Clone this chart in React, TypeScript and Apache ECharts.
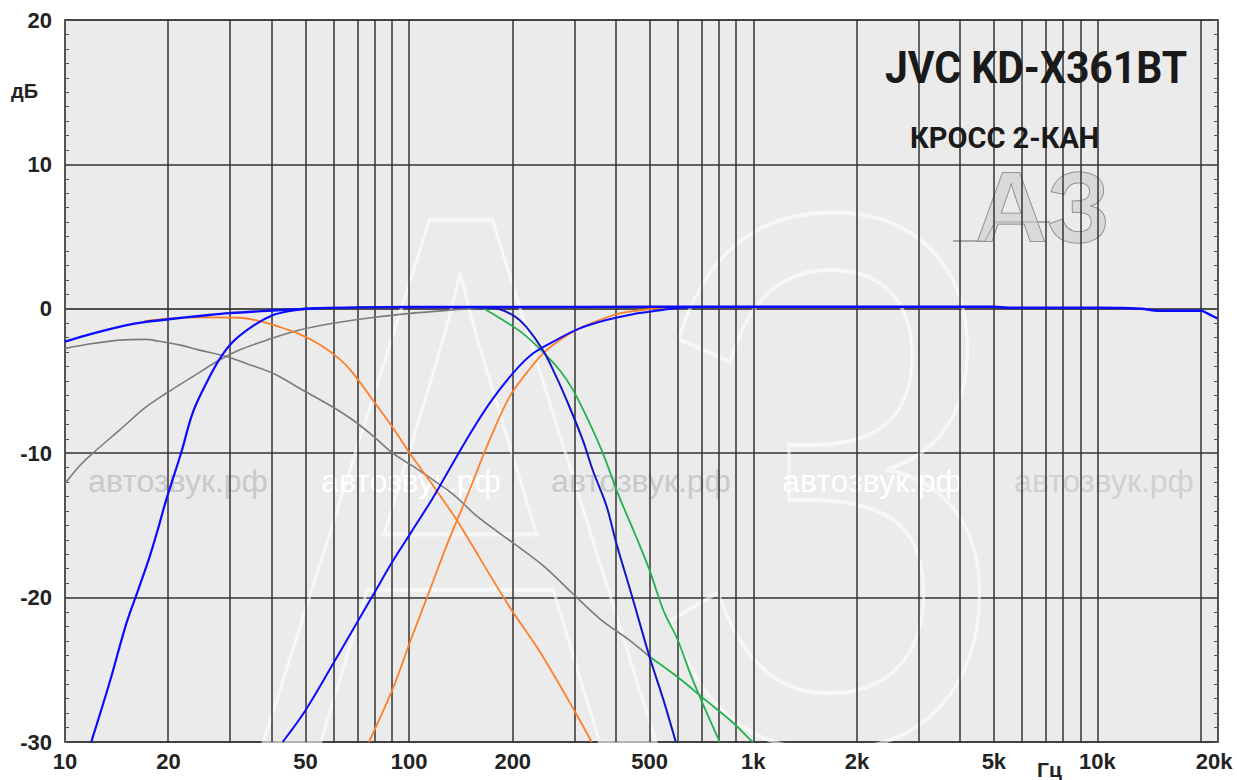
import { useEffect, useRef } from 'react';
import * as echarts from 'echarts';

// ---- data (frequency in Hz, level in dB) ----
const gridFreqs = [20, 30, 40, 50, 60, 70, 80, 90, 100, 200, 300, 400, 500, 600, 700, 800, 900, 1000, 2000, 3000, 4000, 5000, 6000, 7000, 8000, 9000, 10000, 20000];
const xLabelFreqs = [10, 20, 50, 100, 200, 500, 1000, 2000, 5000, 10000, 20000];
const xLabelTexts = ['10', '20', '50', '100', '200', '500', '1k', '2k', '5k', '10k', '20k'];

const greyHP = [[10, -12.1], [11, -10.9], [12.05, -10.0], [14.4, -8.4], [17.2, -6.8], [19.7, -5.85], [23.5, -4.7], [28.1, -3.55], [32.1, -2.86], [38.5, -2.17], [48, -1.47], [60, -1.0], [78.5, -0.6], [102.5, -0.3], [133.6, -0.08], [160, 0.05]];
const greyLP = [[10, -2.74], [12.05, -2.4], [14.4, -2.17], [17.2, -2.12], [18.8, -2.25], [21.5, -2.5], [24.6, -2.86], [29.4, -3.3], [33.6, -3.78], [40.2, -4.47], [48, -5.5], [60, -6.8], [68.6, -7.7], [78.5, -8.8], [89.6, -10.0], [102.5, -10.9], [119.8, -12.0], [136.6, -13.0], [158, -14.4], [200, -16.2], [247, -17.85], [298, -19.7], [359.6, -21.5], [433.6, -22.9], [499.4, -24.1]];
const orangeLP = [[17, -0.85], [20, -0.68], [24.6, -0.6], [32.2, -0.62], [36.8, -0.85], [42, -1.25], [48, -1.75], [54.8, -2.45], [62.6, -3.45], [68.4, -4.4], [78.3, -6.3], [89.5, -8.2], [100.4, -10.0], [112.3, -11.6], [125.2, -13.2], [137.3, -14.6], [146.5, -15.7], [195.2, -20.6], [241.2, -23.85], [301.6, -27.8], [339, -30]];
const orangeHP = [[76.4, -30], [90, -26.2], [101.2, -22.9], [113.9, -19.7], [128, -16.5], [147.2, -13.0], [171.2, -9.1], [195.7, -6.1], [218.9, -4.47], [244.6, -3.1], [273.5, -2.17], [312.7, -1.36], [357.5, -0.78], [408.7, -0.32], [467, -0.1], [530, 0.05], [600, 0.12]];
const greenLP1 = [[163.7, 0.05], [187.2, -0.78], [213.9, -1.7], [244.6, -2.98], [273.5, -4.24], [298.9, -5.6], [334.2, -7.9], [365.4, -10.0], [406, -12.9], [455, -15.7], [499.4, -18.1], [548.4, -20.9], [602.3, -22.9], [661.7, -25.5], [726.7, -27.8], [798.6, -30]];
const greenLP2 = [[499.4, -24.1], [602.3, -25.5], [726.7, -27.1], [877, -28.7], [975, -29.8], [1000, -30]];
const blueHPslow = [[42.9, -30], [50, -27.8], [60.4, -24.5], [69.5, -22.0], [78.2, -19.9], [90, -17.4], [101.2, -15.5], [116.5, -13.2], [122.6, -12.3], [146.5, -9.1], [171.2, -6.55], [200.1, -4.47], [228.8, -3.1], [267.5, -2.17], [312.7, -1.36], [373.9, -0.78], [446.7, -0.37], [522, -0.14], [600, 0.05], [700, 0.12]];
const blueLP = [[150, 0.1], [175, 0.05], [200, -0.43], [218.9, -1.25], [244.6, -2.86], [267.5, -4.7], [292.4, -6.8], [319.6, -9.1], [341.8, -11.2], [373.9, -13.6], [399.6, -16.2], [444.2, -19.9], [499.4, -24.1], [548.4, -27.1], [595.4, -30]];
const blueHPlow = [[11.92, -30], [13.47, -25.9], [15.07, -21.8], [16.3, -19.5], [17.6, -17.2], [18.6, -15.3], [19.7, -13.2], [21.8, -9.9], [23.5, -7.2], [25.8, -5.1], [28.1, -3.5], [30.7, -2.3], [35.1, -1.2], [40.1, -0.45], [45, -0.15], [50, 0], [55, 0.05]];
const blueFull = [[10, -2.28], [12, -1.72], [15, -1.15], [17, -0.92], [20, -0.72], [25, -0.48], [30, -0.3], [40, -0.12], [48, -0.02], [55, 0.05], [70, 0.1], [100, 0.12], [200, 0.12], [500, 0.14], [1000, 0.14], [2000, 0.14], [5000, 0.14], [5500, 0.07], [10000, 0.07], [13400, 0.0], [15000, -0.14], [20000, -0.14], [20800, -0.3], [21600, -0.5], [22300, -0.66]];

const watermarks = ['автозвук.рф', 'автозвук.рф', 'автозвук.рф', 'автозвук.рф', 'автозвук.рф'];

const FONT = '"Liberation Sans", Arial, sans-serif';
const TITLE_FONT = 'Roboto, "Liberation Sans", sans-serif';

const curveDefs = [
  { name: 'greyHP', data: greyHP, color: '#7b7b7b', width: 1.6 },
  { name: 'greyLP', data: greyLP, color: '#7b7b7b', width: 1.6 },
  { name: 'orangeLP', data: orangeLP, color: '#ff7f27', width: 1.8 },
  { name: 'orangeHP', data: orangeHP, color: '#ff7f27', width: 1.8 },
  { name: 'greenLP1', data: greenLP1, color: '#22b14c', width: 1.8 },
  { name: 'greenLP2', data: greenLP2, color: '#22b14c', width: 1.8 },
  { name: 'blueHPslow', data: blueHPslow, color: '#0b0bff', width: 2 },
  { name: 'blueLP', data: blueLP, color: '#1414c8', width: 2 },
  { name: 'blueHPlow', data: blueHPlow, color: '#0b0bff', width: 2.2 },
  { name: 'blueFull', data: blueFull, color: '#0b0bff', width: 2.4 },
];

const lg = (f: number) => Math.log10(f);

export default function App() {
  const ref = useRef<HTMLDivElement>(null);
  useEffect(() => {
    if (!ref.current) return;
    const chart = echarts.init(ref.current, undefined, { renderer: 'svg' });

    const labelStyle = { fontFamily: FONT, fontSize: 22, fontWeight: 'bold' as const, color: '#222' };

    const series: any[] = [
      {
        name: 'grid',
        type: 'line',
        data: [],
        z: 1,
        silent: true,
        markLine: {
          silent: true,
          symbol: ['none', 'none'],
          label: { show: false },
          emphasis: { disabled: true },
          lineStyle: { color: '#333333', width: 1.5, type: 'solid' },
          data: gridFreqs.map((f) => ({ xAxis: lg(f) })),
        },
      },
      ...curveDefs.map((c) => ({
        name: c.name,
        type: 'line',
        z: 5,
        silent: true,
        showSymbol: false,
        smooth: 0.35,
        lineStyle: { color: c.color, width: c.width },
        itemStyle: { color: c.color },
        data: c.data.map(([f, db]) => [lg(f), db]),
      })),
    ];

    const wmX = [178, 411, 641, 872, 1104];
    const wmFill = ['#c9c9c9', '#ffffff', '#c9c9c9', '#ffffff', '#d0d0d0'];

    const graphic: any[] = [
      {
        type: 'text', x: 262, y: 479, scaleX: 0.78, z: 3, silent: true,
        style: { text: 'АЗ', fontSize: 760, fontFamily: FONT, fill: 'rgba(0,0,0,0)', stroke: 'rgba(255,255,255,0.6)', lineWidth: 4, verticalAlign: 'middle', align: 'left' },
      },
      ...watermarks.map((t, i) => ({
        type: 'text', x: wmX[i], y: 481, z: 3, silent: true,
        style: { text: t, fontSize: 32, fontFamily: FONT, fill: wmFill[i], align: 'center', verticalAlign: 'middle' },
      })),
      {
        type: 'polyline', z: 3, silent: true,
        shape: { points: [[953, 241], [985, 241], [995, 222], [1050, 222]] },
        style: { stroke: '#666', lineWidth: 1.2, fill: null },
      },
      {
        type: 'text', x: 975, y: 207, z: 3, silent: true,
        style: { text: 'АЗ', fontSize: 100, fontFamily: FONT, fontWeight: 'bold', fill: 'rgba(205,205,205,0.6)', stroke: '#7a7a7a', lineWidth: 1, verticalAlign: 'middle', align: 'left' },
      },
      {
        type: 'text', x: 885, y: 68, scaleX: 0.93, z: 10, silent: true,
        style: { text: 'JVC KD-X361BT', fontSize: 44, fontFamily: TITLE_FONT, fontWeight: 'bold', fill: '#1a1a1a', verticalAlign: 'middle', align: 'left' },
      },
      {
        type: 'text', x: 910, y: 138, z: 10, silent: true,
        style: { text: 'КРОСС 2-КАН', fontSize: 29, fontFamily: TITLE_FONT, fontWeight: 'bold', fill: '#1a1a1a', verticalAlign: 'middle', align: 'left' },
      },
      {
        type: 'text', x: 11, y: 91, z: 10, silent: true,
        style: { text: 'дБ', fontSize: 20, fontFamily: FONT, fontWeight: 'bold', fill: '#222', verticalAlign: 'middle', align: 'left' },
      },
      {
        type: 'text', x: 1037, y: 769, z: 10, silent: true,
        style: { text: 'Гц', fontSize: 21, fontFamily: FONT, fontWeight: 'bold', fill: '#222', verticalAlign: 'middle', align: 'left' },
      },
    ];

    chart.setOption({
      animation: false,
      backgroundColor: '#ffffff',
      grid: {
        left: 65, top: 20, width: 1153, height: 722,
        show: true, backgroundColor: '#ebebeb', borderColor: '#4a4a4a', borderWidth: 1.5,
      },
      xAxis: {
        type: 'value',
        min: lg(10),
        max: lg(22400),
        axisLine: { show: true, lineStyle: { color: '#4a4a4a', width: 1.5 } },
        axisTick: { show: false },
        splitLine: { show: false },
        axisLabel: {
          ...labelStyle,
          margin: 8,
          customValues: xLabelFreqs.map(lg),
          formatter: (v: number) => {
            let idx = 0;
            let best = Infinity;
            xLabelFreqs.forEach((x, i) => {
              const d = Math.abs(Math.log10(x) - v);
              if (d < best) { best = d; idx = i; }
            });
            const t = xLabelTexts[idx];
            return idx === xLabelFreqs.length - 1 ? '{r|' + t + '}' : t;
          },
          rich: { r: { ...labelStyle, padding: [0, 0, 0, 26] } },
        },
      },
      yAxis: [
        {
          type: 'value', min: -30, max: 20, interval: 10, position: 'left',
          axisLine: { show: true, lineStyle: { color: '#4a4a4a', width: 1.5 } },
          axisTick: { show: true, inside: true, length: 5, lineStyle: { color: '#555' } },
          minorTick: { show: true, splitNumber: 10, length: 4, lineStyle: { color: '#555', width: 1 } },
          splitLine: { show: true, lineStyle: { color: '#333333', width: 1.5 } },
          axisLabel: { ...labelStyle, margin: 13 },
        },
        {
          type: 'value', min: -30, max: 20, interval: 10, position: 'right',
          axisLine: { show: true, lineStyle: { color: '#4a4a4a', width: 1.5 } },
          axisTick: { show: true, inside: true, length: 5, lineStyle: { color: '#555' } },
          minorTick: { show: true, splitNumber: 10, length: 4, lineStyle: { color: '#555', width: 1 } },
          splitLine: { show: false },
          axisLabel: { show: false },
        },
      ],
      series,
      graphic,
    });

    return () => chart.dispose();
  }, []);

  return <div ref={ref} style={{ position: 'absolute', left: 0, top: 0, width: 1237, height: 780 }} />;
}
